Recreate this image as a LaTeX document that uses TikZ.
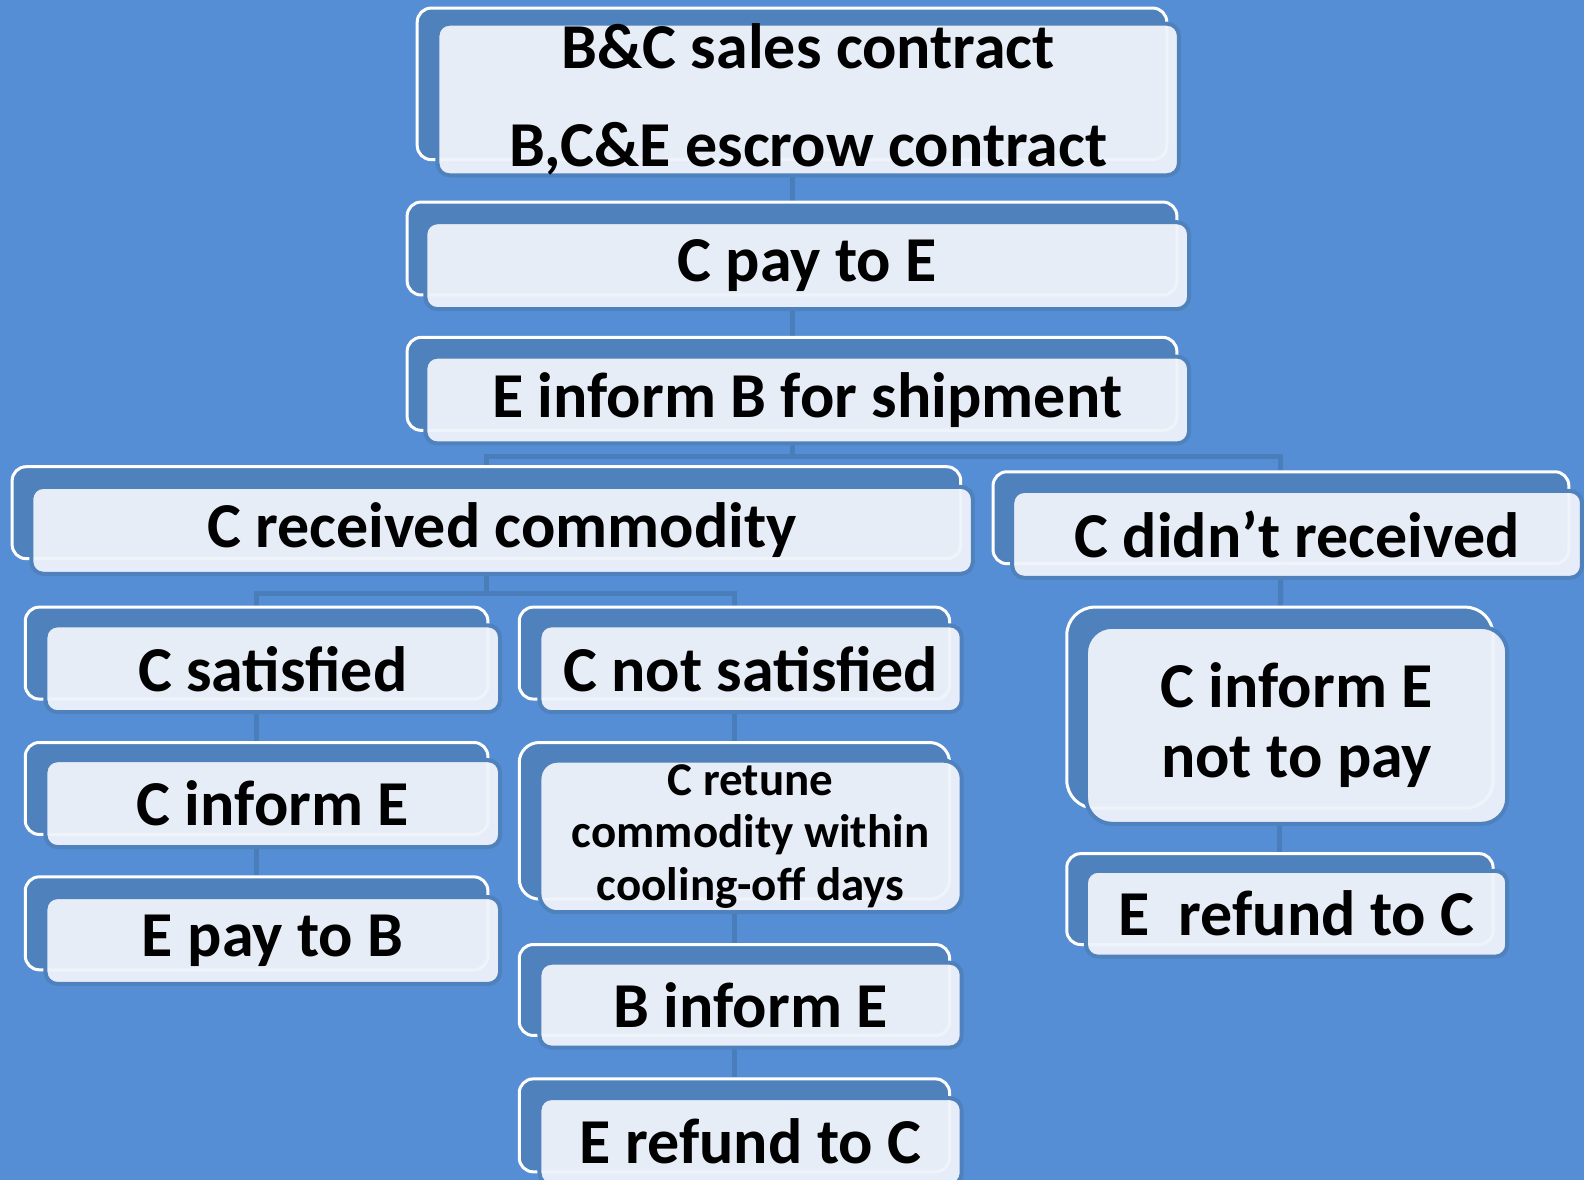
\documentclass[tikz,border=0pt]{standalone}
\usepackage{fontspec}
\setmainfont{Carlito}
\pgfdeclarelayer{behind}
\pgfsetlayers{behind,main}

\definecolor{bgblue}{HTML}{558ED5}
\definecolor{backblue}{HTML}{4F81BD}
\definecolor{paleblue}{HTML}{EFF3FA}
\definecolor{linkblue}{HTML}{4A7EBB}
\newcommand{\unitpx}{0.505pt}

\begin{document}
\begin{tikzpicture}[x=0.505pt, y=-0.505pt, line join=round,
    back/.style={draw=white, line width=1.5pt, fill=backblue, rounded corners=7pt, inner sep=0pt},
    front/.style={draw=backblue, line width=2pt, fill=paleblue, fill opacity=0.95, text opacity=1,
        rounded corners=6pt, inner sep=0pt, align=center, font=\bfseries\fontsize{32}{49}\selectfont},
    boxdim/.style 2 args={minimum width=#1*\unitpx, minimum height=#2*\unitpx},
    link/.style={linkblue, line width=2.5pt}]

    \useasboundingbox (0,0) rectangle (1568,1168);

    % Top chain
    \node[back, boxdim={742}{150}] (deal) at (784,83) {};
    \node[front, boxdim={734}{143}] (dealtxt) at (800,98.5) {B\&C sales contract\\B,C\&E escrow contract};
    \node[back, boxdim={762}{92}] (pay) at (784,246) {};
    \node[front, boxdim={756}{86}] (paytxt) at (799,263) {C pay to E};
    \node[back, boxdim={762}{92}] (ship) at (784,380) {};
    \node[front, boxdim={756}{86}] (shiptxt) at (799,396) {E inform B for shipment};

    % Received or not
    \node[back, boxdim={939}{91}] (recv) at (481.5,507.5) {};
    \node[front, boxdim={932}{86}] (recvtxt) at (497,525) {C received commodity};
    \node[back, boxdim={570}{91}] (norecv) at (1268,512.5) {};
    \node[front, boxdim={564}{86}] (norecvtxt) at (1284,529) {C didn’t received};

    % Satisfied branch
    \node[back, boxdim={458}{91}] (sat) at (254,646.5) {};
    \node[front, boxdim={450}{86}] (sattxt) at (270,662) {C satisfied};
    \node[back, boxdim={458}{91}] (inform) at (254,780.5) {};
    \node[front, boxdim={450}{86}] (informtxt) at (270,795.5) {C inform E};
    \node[back, boxdim={458}{92}] (paid) at (254,914) {};
    \node[front, boxdim={450}{86}] (paidtxt) at (270,931) {E pay to B};

    % Not satisfied branch
    \node[back, boxdim={426}{91}] (unsat) at (727,646.5) {};
    \node[front, boxdim={418}{86}] (unsattxt) at (743,662) {C not satisfied};
    \node[back, boxdim={426}{155}, rounded corners=10pt] (retune) at (727,812.5) {};
    \node[front, boxdim={418}{150}, rounded corners=9pt, font=\bfseries\fontsize{23.5}{26.3}\selectfont]
        (retunetxt) at (743,828) {C retune\\commodity within\\cooling-off days};
    \node[back, boxdim={426}{90}] (binform) at (727,980) {};
    \node[front, boxdim={418}{84}] (binformtxt) at (743,995) {B inform E};
    \node[back, boxdim={426}{92}] (refund) at (727,1114) {};
    \node[front, boxdim={418}{86}] (refundtxt) at (743,1130) {E refund to C};

    % Not received branch
    \node[back, boxdim={422}{199}, rounded corners=14pt] (notpay) at (1267,700.5) {};
    \node[front, boxdim={417}{195}, rounded corners=13pt, font=\bfseries\fontsize{32}{35}\selectfont]
        (notpaytxt) at (1283.5,718) {C inform E\\not to pay};
    \node[back, boxdim={422}{90}] (refundb) at (1267,890) {};
    \node[front, boxdim={417}{85}] (refundbtxt) at (1283.5,904.5) {E~~refund to C};

    % Connectors
    \begin{pgfonlayer}{behind}
        \fill[bgblue] (0,0) rectangle (1568,1168);
        \draw[link] (deal) -- (pay);
        \draw[link] (pay) -- (ship);
        \draw[link] (ship) -- ++(0,72) -| (recv);
        \draw[link] (ship) -- ++(0,72) -| (norecv);
        \draw[link] (recv) -- ++(0,80) -| (sat);
        \draw[link] (recv) -- ++(0,80) -| (unsat);
        \draw[link] (sat) -- (inform);
        \draw[link] (inform) -- (paid);
        \draw[link] (unsat) -- (retune);
        \draw[link] (retune) -- (binform);
        \draw[link] (binform) -- (refund);
        \draw[link] (norecv) -- (notpay);
        \draw[link] (notpay) -- (refundb);
    \end{pgfonlayer}

\end{tikzpicture}
\end{document}
